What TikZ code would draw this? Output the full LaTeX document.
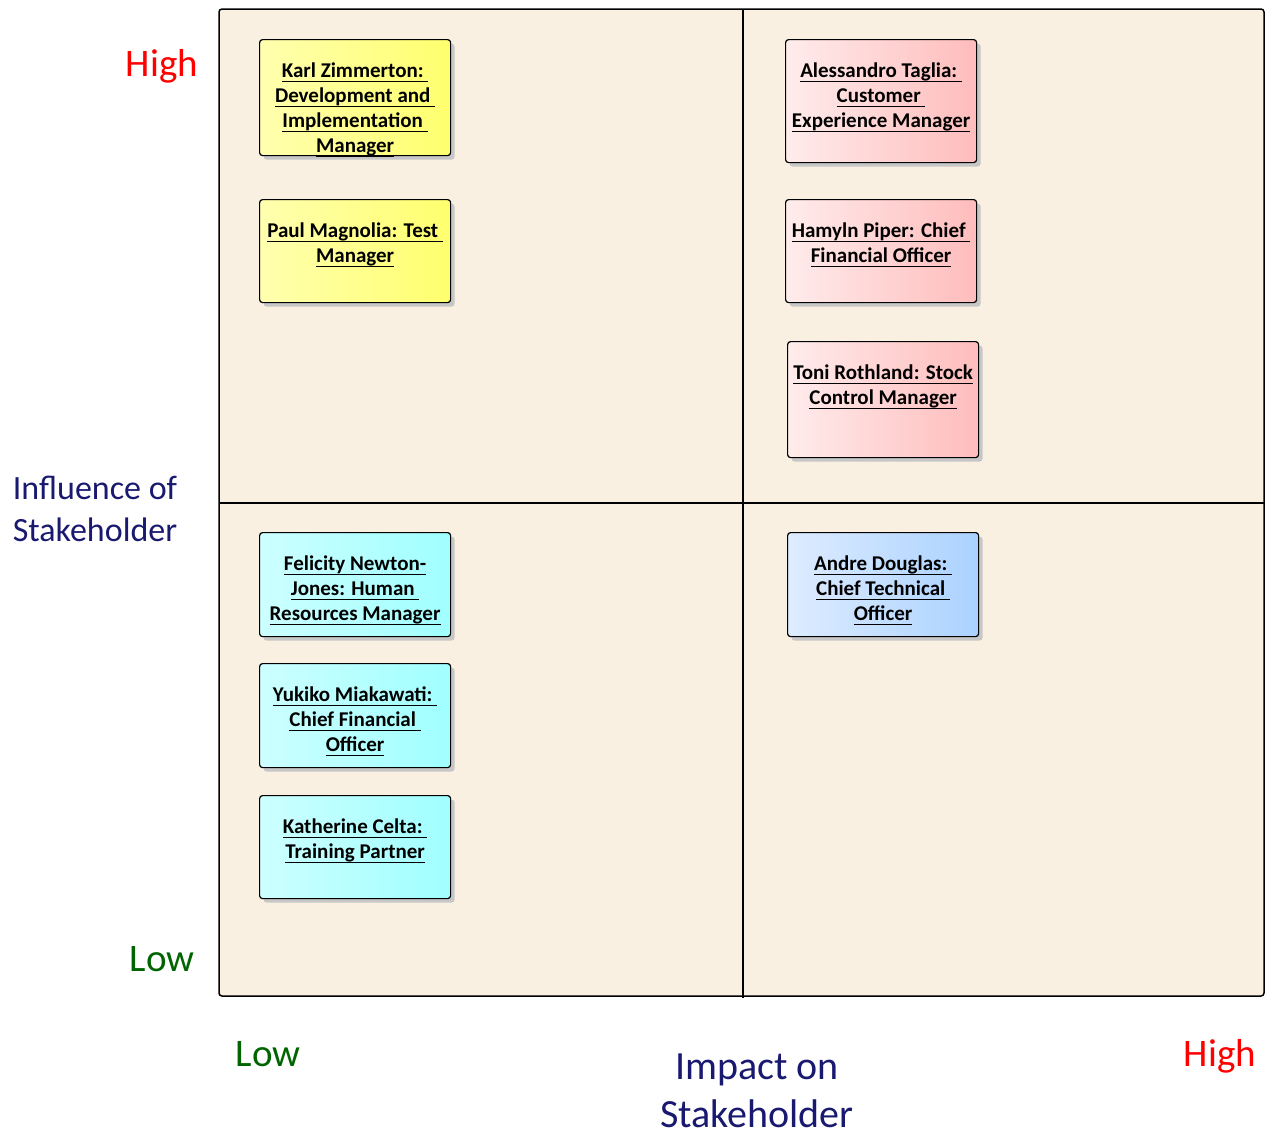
\documentclass[tikz,border=0pt]{standalone}
\usepackage{fontspec}
\setmainfont{Carlito}
\usepackage{tikz}
\usetikzlibrary{shadows}

\definecolor{linen}{RGB}{250,240,226}
\definecolor{navytext}{RGB}{25,25,112}
\definecolor{lowgreen}{RGB}{0,100,0}
\definecolor{yellowL}{RGB}{255,255,175}
\definecolor{yellowR}{RGB}{255,255,110}
\definecolor{pinkL}{RGB}{255,236,236}
\definecolor{pinkR}{RGB}{255,188,188}
\definecolor{cyanL}{RGB}{205,255,255}
\definecolor{cyanR}{RGB}{160,255,255}
\definecolor{blueL}{RGB}{222,236,255}
\definecolor{blueR}{RGB}{170,210,255}

% underline that keeps one depth for every line
\newcommand{\ulx}[1]{\underline{\smash{#1}\rule[-2.5pt]{0pt}{2.5pt}}}

\begin{document}
\begin{tikzpicture}[x=1pt,y=-1pt,
  stake/.style={draw,rounded corners=3pt,line width=1.2pt,minimum width=191pt,
    anchor=north west,inner sep=0pt,
    drop shadow={shadow xshift=4pt,shadow yshift=-4pt,fill=black!22,opacity=1}},
  yellowbox/.style={stake,left color=yellowL,right color=yellowR},
  pinkbox/.style={stake,left color=pinkL,right color=pinkR},
  cyanbox/.style={stake,left color=cyanL,right color=cyanR},
  bluebox/.style={stake,left color=blueL,right color=blueR},
  who/.style={font=\fontsize{21}{25}\selectfont\bfseries,align=center,anchor=base,inner sep=0pt},
  level/.style={font=\fontsize{39}{46}\selectfont,anchor=base,inner sep=0pt},
  axis/.style={text=navytext,align=center,anchor=base,inner sep=0pt}]
  \useasboundingbox (0,0) rectangle (1265,1135);

  % Quadrant frame
  \draw[fill=linen,line width=1.5pt,rounded corners=3pt] (219,9) rectangle (1264,996);
  \coordinate (vtop) at (743,9);
  \coordinate (vbot) at (743,998);
  \coordinate (hleft) at (219,503);
  \coordinate (hright) at (1264,503);
  \draw[line width=1.2pt] (vtop) -- (vbot) (hleft) -- (hright);

  % Stakeholder boxes
  \node[yellowbox,minimum height=116pt] (karl) at (259,39) {};
  \node[yellowbox,minimum height=103pt] (paul) at (259,199) {};
  \node[pinkbox,minimum height=123pt] (alessandro) at (785,39) {};
  \node[pinkbox,minimum height=103pt] (hamyln) at (785,199) {};
  \node[pinkbox,minimum height=116pt] (toni) at (787,341) {};
  \node[cyanbox,minimum height=104pt] (felicity) at (259,532) {};
  \node[cyanbox,minimum height=104pt] (yukiko) at (259,663) {};
  \node[cyanbox,minimum height=103pt] (katherine) at (259,795) {};
  \node[bluebox,minimum height=104pt] (andre) at (787,532) {};

  % Box texts (anchored on the baseline of the last line)
  \node[who] (karltxt) at ([yshift=-113pt]karl.north)
    {\ulx{Karl Zimmerton:\ }\\\ulx{Development and\ }\\\ulx{Implementation\ }\\\ulx{Manager}};
  \node[who] (paultxt) at ([yshift=-63pt]paul.north)
    {\ulx{Paul Magnolia: Test\ }\\\ulx{Manager}};
  \node[who] (alessandrotxt) at ([yshift=-88pt]alessandro.north)
    {\ulx{Alessandro Taglia:\ }\\\ulx{Customer\ }\\\ulx{Experience Manager}};
  \node[who] (hamylntxt) at ([yshift=-63pt]hamyln.north)
    {\ulx{Hamyln Piper: Chief\ }\\\ulx{Financial Officer}};
  \node[who] (tonitxt) at ([yshift=-63pt]toni.north)
    {\ulx{Toni Rothland: Stock}\\\ulx{Control Manager}};
  \node[who] (felicitytxt) at ([yshift=-88pt]felicity.north)
    {\ulx{Felicity Newton-}\\\ulx{Jones: Human\ }\\\ulx{Resources Manager}};
  \node[who] (yukikotxt) at ([yshift=-88pt]yukiko.north)
    {\ulx{Yukiko Miakawati:\ }\\\ulx{Chief Financial\ }\\\ulx{Officer}};
  \node[who] (katherinetxt) at ([yshift=-63pt]katherine.north)
    {\ulx{Katherine Celta:\ }\\\ulx{Training Partner}};
  \node[who] (andretxt) at ([yshift=-88pt]andre.north)
    {\ulx{Andre Douglas:\ }\\\ulx{Chief Technical\ }\\\ulx{Officer}};

  % Axis labels
  \node[level,text=red] (yhigh) at (162,76) {High};
  \node[level,text=lowgreen] (ylow) at (162,971) {Low};
  \node[level,text=lowgreen] (xlow) at (268,1066) {Low};
  \node[level,text=red] (xhigh) at (1220,1066) {High};
  \node[axis,font=\fontsize{34}{42}\selectfont] (yaxis) at (95,541) {Influence of\\Stakeholder};
  \node[axis,font=\fontsize{40}{48}\selectfont] (xaxis) at (757,1127) {Impact on\\Stakeholder};
\end{tikzpicture}
\end{document}
